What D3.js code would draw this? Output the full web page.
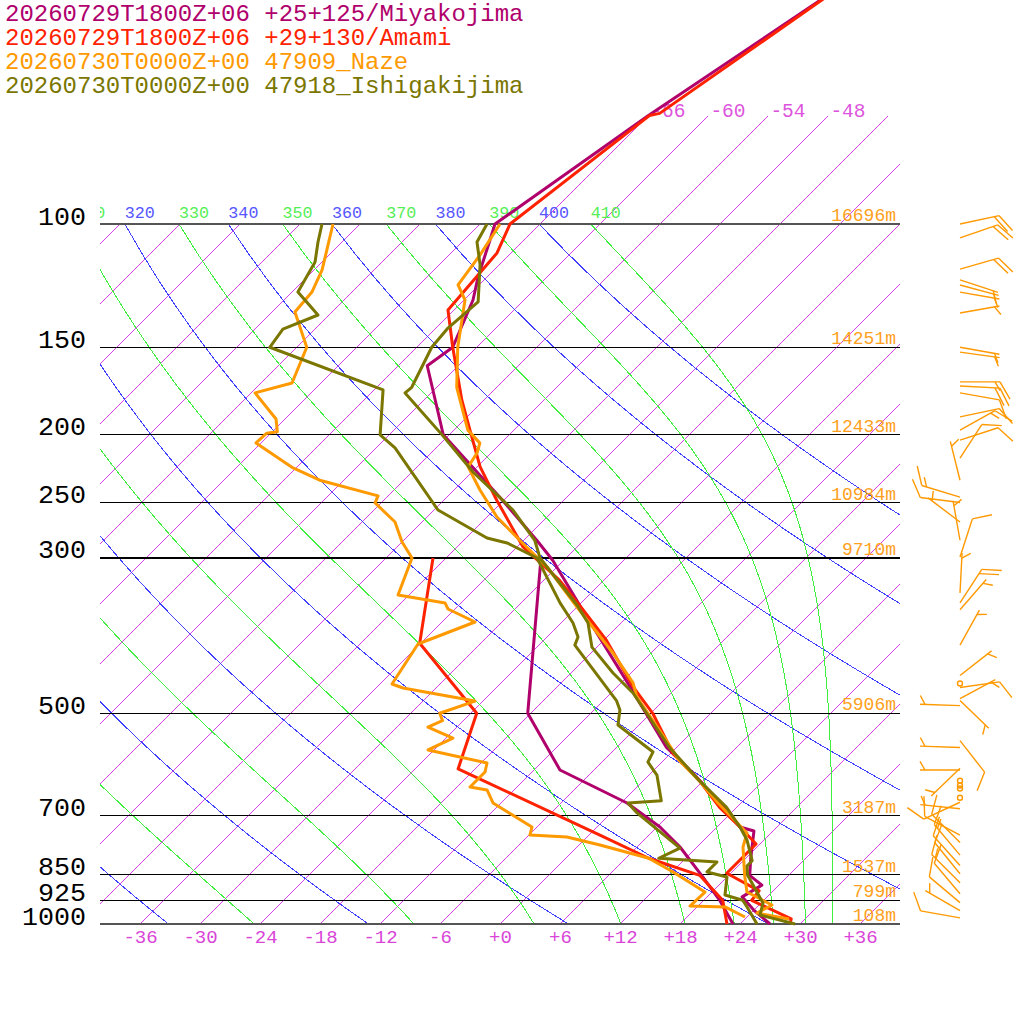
<!DOCTYPE html>
<html>
<head>
<meta charset="utf-8">
<script src="https://cdn.jsdelivr.net/npm/d3@7"></script>
<style>
  body { margin: 0; background: #fff; }
  text { font-family: "Liberation Mono", "DejaVu Sans Mono", monospace; }
</style>
</head>
<body>
<div id="chart"></div>
<script>
// TITLES
const titles = [
  "20260729T1800Z+06 +25+125/Miyakojima",
  "20260729T1800Z+06 +29+130/Amami",
  "20260730T0000Z+00 47909_Naze",
  "20260730T0000Z+00 47918_Ishigakijima"
];
const colors = ["#b0006c", "#ff2200", "#ff9900", "#7a7600"];

// AXES / GRID VALUES
const levels = [100, 150, 200, 250, 300, 500, 700, 850, 925, 1000];
const heights = ["16696m", "14251m", "12433m", "10984m", "9710m", "5906m", "3187m", "1537m", "799m", "108m"];
const tempTicks = [-36, -30, -24, -18, -12, -6, 0, 6, 12, 18, 24, 30, 36];
const isotherms = [-108, -102, -96, -90, -84, -78, -72, -66, -60, -54, -48, -42, -36, -30,
  -24, -18, -12, -6, 0, 6, 12, 18, 24, 30, 36];
const isothermLabels = [-66, -60, -54, -48];
const dryThetas = [240, 260, 280, 300, 320, 340, 360, 380, 400];
const moistThetas = [230, 250, 270, 290, 310, 330, 350, 370, 390, 410];
const dryLabels = [320, 340, 360, 380, 400];
const moistLabels = [310, 330, 350, 370, 390, 410];

// MIYAKOJIMA
const miyakoTempP = [30, 70, 100, 105.4, 119, 128.4, 150, 159.4, 200, 245.6, 283, 302.3, 352, 458.4,
  559.6, 608.5, 671.6, 726.9, 736.6, 805.5, 852, 880, 914.6, 957, 1000];
const miyakoTemp = [-53.4, -66.0, -70.5, -69.4, -66.9, -65.1, -62.4, -63.1, -54.6, -42.7, -34.7, -31.1, -23.7, -10.7,
  -1.0, 4.2, 9.9, 14.3, 16.1, 18.5, 20.1, 22.3, 21.5, 24.1, 27.0];
const miyakoDewP = [300, 500, 602.6, 671.6, 726.9, 776.2, 857, 925, 1000];
const miyakoDew = [-32.5, -18.3, -9.4, 0.6, 6.3, 10.3, 15.6, 19.6, 23.3];

// AMAMI
const amamiTempP = [30, 69.5, 70, 100, 110, 132.7, 150, 178.5, 198.5, 222.3, 248.1, 289.3, 322.9, 355.8,
  393.5, 458.4, 500, 570, 624.1, 681.5, 726.9, 768.5, 846.3, 896.8, 925, 983, 1000];
const amamiTemp = [-54.1, -65.1, -65.9, -69.0, -67.4, -66.6, -62.4, -56.2, -52.1, -47.7, -42.7, -35.4, -28.4, -23.1,
  -17.7, -10.4, -5.8, 0.2, 5.6, 10.3, 14.3, 17.6, 17.6, 22.6, 22.8, 28.6, 29.0];
const amamiDewP = [300, 397.2, 500, 600.4, 746.4, 805.5, 852.1, 925, 1000];
const amamiDew = [-43.3, -36.1, -23.4, -19.7, 1.1, 8.3, 15.1, 19.9, 22.7];

// NAZE
const nazeTempP = [100, 110.7, 122.2, 128.4, 150, 171.1, 197, 205.6, 212.4, 222.3, 239.9, 262.2, 283, 309,
  352.5, 410.1, 452.5, 474, 547, 584.3, 624.1, 671.6, 741.3, 776.2, 852.1, 900.2, 939.5, 964.5, 983.7];
const nazeTemp = [-70.0, -68.9, -68.1, -65.9, -61.9, -58.0, -52.6, -50.1, -49.4, -48.9, -45.4, -41.0, -36.4, -31.0,
  -24.0, -15.8, -10.8, -9.0, -1.7, 1.6, 5.6, 9.7, 15.6, 16.6, 19.6, 21.5, 25.3, 24.6, 28.4];
const nazeDewP = [100, 116.3, 125.1, 133.6, 150, 168.7, 174.3, 189.9, 198, 199, 205.5, 223.1, 232.3, 244.6,
  250.3, 266.5, 284.6, 300, 338.8, 347.8, 354.8, 370.3, 398.1, 454.1, 460.1, 480.3, 500, 512.1, 523.2,
  542.5, 564.1, 588.8, 606.5, 637.2, 643.5, 671.6, 726.9, 746.4, 751.2, 771.2, 805.5, 842.6, 900.2,
  942.6, 945.5, 977.3];
const nazeDew = [-86.7, -83.2, -82.0, -81.7, -77.0, -74.9, -77.6, -72.9, -71.5, -72.4, -72.5, -66.3, -62.4, -55.0,
  -54.6, -50.7, -48.0, -45.4, -43.1, -37.6, -36.7, -32.7, -36.2, -34.8, -33.3, -24.8, -27.1, -26.1, -26.9,
  -23.3, -24.6, -17.4, -16.7, -16.7, -14.7, -12.8, -6.5, -5.9, -2.0, 2.1, 8.3, 12.1, 17.3,
  17.2, 20.8, 23.8];

// ISHIGAKIJIMA
const ishiTempP = [100, 106.1, 114.4, 129.2, 140.8, 150, 171.1, 174.3, 200.1, 226.1, 256.2, 283, 300, 350.2,
  371.5, 402.2, 437.9, 467.7, 559.6, 624.1, 681.5, 726.9, 758.6, 812.3, 826.3, 852.1, 933.3, 970.8, 1000];
const ishiTemp = [-71.3, -70.5, -67.9, -64.4, -64.8, -64.5, -62.5, -62.6, -54.7, -47.9, -40.1, -34.9, -32.6, -24.2,
  -21.3, -18.5, -13.8, -9.8, -0.7, 5.6, 11.0, 14.3, 16.3, 18.9, 18.9, 19.9, 24.2, 25.1, 29.5];
const ishiDewP = [100, 106.1, 113.3, 125.1, 134.9, 141.3, 150, 172.6, 200.1, 208.9, 256.2, 280.9, 285.5, 300,
  347.8, 371.5, 389, 399.6, 479.5, 494.8, 519.7, 567.8, 587, 612.7, 666.6, 671.6, 694, 778.9, 805.5,
  815.5, 842.6, 856.8, 909.1, 925, 945.5, 1000];
const ishiDew = [-87.8, -86.4, -84.7, -83.4, -79.1, -81.2, -80.7, -65.1, -60.9, -58.1, -47.6, -39.9, -37.4, -32.9,
  -26.1, -22.8, -20.9, -20.4, -10.7, -9.4, -8.1, -1.9, -1.4, 0.8, 3.8, 0.7, 2.6, 10.4, 9.3,
  15.5, 15.5, 18.0, 19.6, 21.9, 23.0, 25.7];

// NAZE WINDS (direction deg, speed kt)
const windP = [100, 104.7, 116, 120.2, 122.2, 125.1, 134, 150, 152.4, 168.1, 170.4, 174.3, 188.6, 197, 203.6,
  216, 232.3, 245.6, 249.9, 266.5, 283, 299, 336.6, 347.8, 355.7, 399.6, 441.5, 453.3, 459.3, 476.3,
  479.5, 487.5, 547, 559.6, 599, 602.6, 624.1, 634.1, 640.3, 660, 670, 684.6, 746.4, 764.7, 797.4,
  825, 847.8, 873.4, 905.5, 932, 957, 980];
const windDir = [78, 71, 74, 108, 105, 100, 80, 100, 98, 90, 93, 100, 78, 61, 72,
  33, 346, 287, 277, 307, 350, 18, 3, 33, 41, 29, 52, 0, 82, 62,
  134, 272, 142, 272, 226, 270, 0, 0, 0, 0, 245, 276, 298, 315, 320,
  318, 321, 315, 320, 310, 300, 280];
const windSpd = [20, 20, 20, 5, 5, 5, 5, 5, 5, 15, 20, 10, 10, 15, 10,
  10, 5, 15, 10, 5, 5, 10, 5, 20, 5, 5, 5, 0, 10, 5,
  5, 5, 10, 5, 5, 5, 0, 0, 0, 0, 10, 5, 10, 10, 15,
  10, 10, 15, 10, 10, 5, 10];

function drawGraph() {
  // DIMENSIONS
  const width = 1024;
  const height = 1024;

  const svg = d3.select("#chart")
    .append("svg")
    .attr("width", width)
    .attr("height", height)
    .style("background", "#fff");

  // SCALES
  const y = d3.scaleLog().domain([1000, 100]).range([924, 224]);
  const xT = d3.scaleLinear().domain([-40, 40]).range([100, 900]);
  const skewX = (t, p) => xT(t) + (y(1000) - y(p));

  // CLIP PATH
  svg.append("defs").append("clipPath").attr("id", "plot")
    .append("rect").attr("x", 100).attr("y", 0).attr("width", 800).attr("height", 925);

  const grid = svg.append("g").attr("clip-path", "url(#plot)");
  const gridLines = grid.append("g").attr("shape-rendering", "crispEdges");

  const line = d3.line().x(d => skewX(d.t, d.p)).y(d => y(d.p));
  const pSteps = d3.range(1000, 99, -10);

  // ISOTHERMS
  gridLines.append("g").selectAll("line")
    .data(isotherms)
    .join("line")
    .attr("x1", d => skewX(d, 1000))
    .attr("y1", y(1000))
    .attr("x2", d => skewX(d, d >= -66 ? 70 : 100))
    .attr("y2", d => y(d >= -66 ? 70 : 100))
    .attr("stroke", "rgb(214,64,228)")
    .attr("stroke-width", 1);

  // DRY ADIABATS
  gridLines.append("g").selectAll("path")
    .data(dryThetas)
    .join("path")
    .attr("d", th => line(pSteps.map(p => ({ p, t: th * Math.pow(p / 1000, 0.286) - 273.15 }))))
    .attr("fill", "none")
    .attr("stroke", "rgb(64,64,255)")
    .attr("stroke-width", 1);

  // MOIST ADIABATS
  function thetaE(tc, p) {
    const tk = tc + 273.15;
    const es = 6.112 * Math.exp(17.67 * tc / (tc + 243.5));
    if (es > 0.8 * p) return Infinity;
    const r = 622 * es / (p - es);
    return tk * Math.pow(1000 / p, 0.2854 * (1 - 0.00028 * r)) *
      Math.exp((3.376 / tk - 0.00254) * r * (1 + 0.00081 * r));
  }
  function moistT(te, p) {
    let lo = -140, hi = 60, mid = 0;
    for (let i = 0; i < 50; i++) {
      mid = (lo + hi) / 2;
      if (thetaE(mid, p) > te) hi = mid; else lo = mid;
    }
    return mid;
  }
  gridLines.append("g").selectAll("path")
    .data(moistThetas)
    .join("path")
    .attr("d", te => line(pSteps.map(p => ({ p, t: moistT(te, p) }))))
    .attr("fill", "none")
    .attr("stroke", "rgb(64,238,64)")
    .attr("stroke-width", 1);

  // LABELS
  grid.append("g").selectAll("text")
    .data(isothermLabels)
    .join("text")
    .attr("x", d => skewX(d, 70) + 2)
    .attr("y", y(70) + 1)
    .attr("font-size", 19.5)
    .attr("fill", "#dd55dd")
    .text(d => d);

  grid.append("g").selectAll("text")
    .data(dryLabels)
    .join("text")
    .attr("x", th => skewX(th * Math.pow(0.1, 0.286) - 273.15, 100))
    .attr("y", y(100) - 6)
    .attr("font-size", 16.7)
    .attr("fill", "#5555ff")
    .text(d => d);

  grid.append("g").selectAll("text")
    .data(moistLabels)
    .join("text")
    .attr("x", te => skewX(moistT(te, 100), 100))
    .attr("y", y(100) - 6)
    .attr("font-size", 16.7)
    .attr("fill", "#55ee55")
    .text(d => d);

  // PRESSURE LINES
  svg.append("g").attr("shape-rendering", "crispEdges").selectAll("line")
    .data(levels)
    .join("line")
    .attr("x1", 100)
    .attr("x2", 900)
    .attr("y1", d => y(d))
    .attr("y2", d => y(d))
    .attr("stroke", d => (d === 100 || d === 1000) ? "#555" : "#000")
    .attr("stroke-width", d => (d === 100 || d === 1000) ? 2 : 1.3);

  // HEIGHT LABELS
  svg.append("g").selectAll("text")
    .data(levels)
    .join("text")
    .attr("x", 896)
    .attr("y", d => y(d) - 3)
    .attr("text-anchor", "end")
    .attr("font-size", 18)
    .attr("fill", "#ffa020")
    .text((d, i) => heights[i]);

  // AXES
  const yAx = d3.axisLeft(y).tickValues(levels).tickFormat(d3.format("d")).tickSize(0).tickPadding(14);
  const yAxisHolder = svg.append("g").attr("transform", "translate(100,0)").call(yAx);
  yAxisHolder.select(".domain").remove();
  yAxisHolder.selectAll("text")
    .attr("dy", "0em")
    .attr("font-size", 26.7)
    .attr("fill", "#000")
    .style("font-family", "'Liberation Mono', monospace");

  const xAx = d3.axisBottom(xT).tickValues(tempTicks)
    .tickFormat(d => (d >= 0 ? "+" : "") + d).tickSize(0).tickPadding(6);
  const xAxisHolder = svg.append("g").attr("transform", `translate(0,${y(1000)})`).call(xAx);
  xAxisHolder.select(".domain").remove();
  xAxisHolder.selectAll("text")
    .attr("font-size", 19)
    .attr("fill", "#d845d8")
    .style("font-family", "'Liberation Mono', monospace");

  // SOUNDINGS
  const zip = (ps, ts) => ps.map((p, i) => ({ p, t: ts[i] }));
  const stations = [
    [zip(miyakoTempP, miyakoTemp), zip(miyakoDewP, miyakoDew)],
    [zip(amamiTempP, amamiTemp), zip(amamiDewP, amamiDew)],
    [zip(nazeTempP, nazeTemp), zip(nazeDewP, nazeDew)],
    [zip(ishiTempP, ishiTemp), zip(ishiDewP, ishiDew)]
  ];
  const sounding = svg.append("g");
  stations.forEach((st, i) => {
    st.forEach(prof => {
      sounding.append("path")
        .attr("d", line(prof))
        .attr("fill", "none")
        .attr("stroke", colors[i])
        .attr("stroke-width", 3)
        .attr("stroke-linejoin", "round");
    });
  });

  // WIND BARBS
  const barbs = svg.append("g")
    .attr("stroke", "#ff9900")
    .attr("stroke-width", 1.4)
    .attr("fill", "none");
  const a = 60 * Math.PI / 180;
  windP.forEach((p, i) => {
    const bx = 960, by = y(p);
    const spd = windSpd[i];
    if (spd < 2.5) {
      barbs.append("circle").attr("cx", bx).attr("cy", by).attr("r", 2.5);
      return;
    }
    const r = windDir[i] * Math.PI / 180;
    const ux = Math.sin(r), uy = -Math.cos(r);
    const tx = bx + ux * 40, ty = by + uy * 40;
    barbs.append("line").attr("x1", bx).attr("y1", by).attr("x2", tx).attr("y2", ty);
    const fx = ux * Math.cos(a) - uy * Math.sin(a);
    const fy = ux * Math.sin(a) + uy * Math.cos(a);
    const s = Math.round(spd / 5) * 5;
    const full = Math.floor(s / 10);
    const half = s - full * 10 >= 5;
    let pos = 0;
    for (let k = 0; k < full; k++) {
      const sx = tx - ux * pos, sy = ty - uy * pos;
      barbs.append("line").attr("x1", sx).attr("y1", sy).attr("x2", sx + fx * 20).attr("y2", sy + fy * 20);
      pos += 5;
    }
    if (half) {
      if (pos === 0) pos = 5;
      const sx = tx - ux * pos, sy = ty - uy * pos;
      barbs.append("line").attr("x1", sx).attr("y1", sy).attr("x2", sx + fx * 10).attr("y2", sy + fy * 10);
    }
  });

  // TITLE
  svg.append("g").selectAll("text")
    .data(titles)
    .join("text")
    .attr("x", 5)
    .attr("y", (d, i) => 21 + i * 24)
    .attr("font-size", 24)
    .attr("fill", (d, i) => colors[i])
    .text(d => d);
}

drawGraph();
</script>
</body>
</html>
